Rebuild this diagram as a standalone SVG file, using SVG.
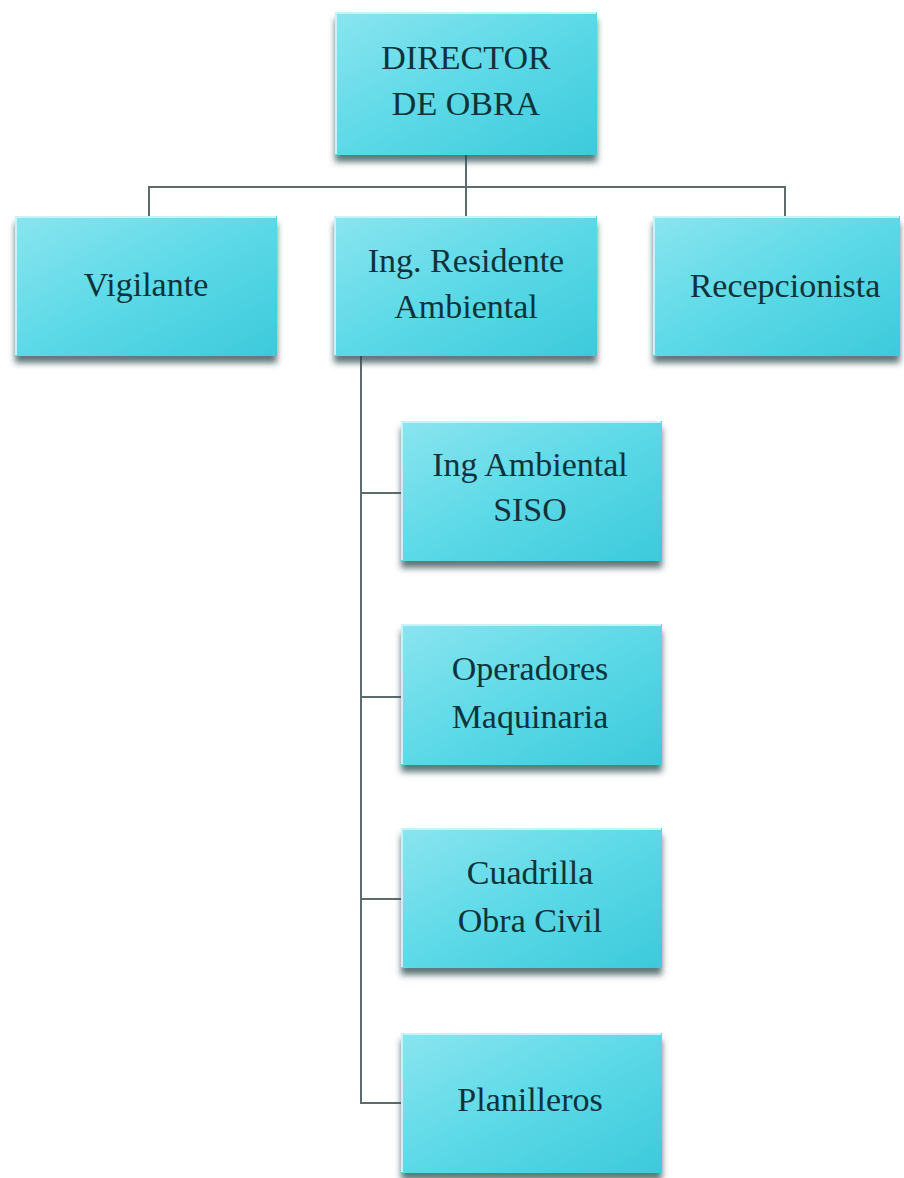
<svg xmlns="http://www.w3.org/2000/svg" width="904" height="1178" viewBox="0 0 904 1178">
  <defs>
    <linearGradient id="fill" x1="0" y1="0" x2="1" y2="1">
      <stop offset="0" stop-color="#8ae5ef"/>
      <stop offset="0.5" stop-color="#5cd9e7"/>
      <stop offset="1" stop-color="#3ccadb"/>
    </linearGradient>
    <filter id="shadow" x="-10%" y="-10%" width="120%" height="130%">
      <feDropShadow dx="0" dy="7" stdDeviation="3" flood-color="#25484d" flood-opacity="0.75"/>
    </filter>
  </defs>
  <style>
    .box { fill: url(#fill); filter: url(#shadow); }
    .edge { fill: none; stroke: #c6f3f8; stroke-width: 2; }
    .lbl { font-family: "Liberation Serif", "Times New Roman", serif; font-size: 34px; fill: #0f3339; text-anchor: middle; }
    .conn { fill: none; stroke: #5d6b6e; stroke-width: 2; }
  </style>
  <rect width="904" height="1178" fill="#ffffff"/>

  <g id="connectors">
    <path class="conn" d="M466 155 V216"/>
    <path class="conn" d="M149 216 V187 H785 V216"/>
    <path class="conn" d="M361 355 V1103 H401"/>
    <path class="conn" d="M361 493 H401"/>
    <path class="conn" d="M361 697 H401"/>
    <path class="conn" d="M361 899 H401"/>
  </g>

  <g id="director">
    <rect class="box" x="335" y="12" width="262" height="143"/>
    <path class="edge" d="M336 154 V13 H596"/>
    <text class="lbl" x="466" y="69">DIRECTOR</text>
    <text class="lbl" x="466" y="115">DE OBRA</text>
  </g>

  <g id="vigilante">
    <rect class="box" x="15" y="216" width="262" height="140"/>
    <path class="edge" d="M16 355 V217 H276"/>
    <text class="lbl" x="146" y="296">Vigilante</text>
  </g>

  <g id="residente">
    <rect class="box" x="334" y="216" width="263" height="140"/>
    <path class="edge" d="M335 355 V217 H596"/>
    <text class="lbl" x="466" y="272">Ing. Residente</text>
    <text class="lbl" x="466" y="318">Ambiental</text>
  </g>

  <g id="recepcionista">
    <rect class="box" x="653" y="216" width="247" height="140"/>
    <path class="edge" d="M654 355 V217 H899"/>
    <text class="lbl" x="785" y="297">Recepcionista</text>
  </g>

  <g id="ing-ambiental">
    <rect class="box" x="401" y="421" width="261" height="140"/>
    <path class="edge" d="M402 560 V422 H661"/>
    <text class="lbl" x="530" y="476">Ing Ambiental</text>
    <text class="lbl" x="530" y="521">SISO</text>
  </g>

  <g id="operadores">
    <rect class="box" x="401" y="624" width="261" height="141"/>
    <path class="edge" d="M402 764 V625 H661"/>
    <text class="lbl" x="530" y="680">Operadores</text>
    <text class="lbl" x="530" y="728">Maquinaria</text>
  </g>

  <g id="cuadrilla">
    <rect class="box" x="401" y="828" width="261" height="140"/>
    <path class="edge" d="M402 967 V829 H661"/>
    <text class="lbl" x="530" y="884">Cuadrilla</text>
    <text class="lbl" x="530" y="932">Obra Civil</text>
  </g>

  <g id="planilleros">
    <rect class="box" x="401" y="1033" width="261" height="140"/>
    <path class="edge" d="M402 1172 V1034 H661"/>
    <text class="lbl" x="530" y="1111">Planilleros</text>
  </g>
</svg>
